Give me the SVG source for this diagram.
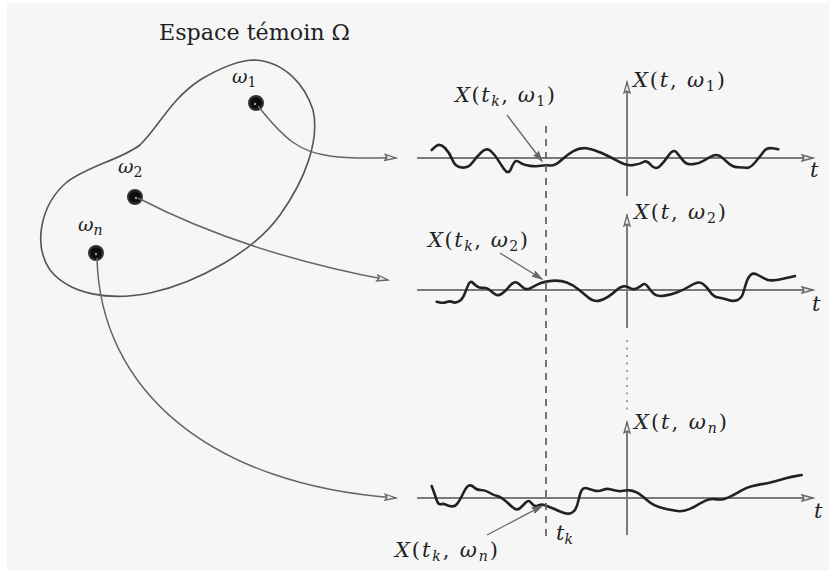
<svg xmlns="http://www.w3.org/2000/svg" width="829" height="572" viewBox="0 0 829 572">
<defs>
<style>
.bg{fill:#f6f6f6}
.blob{fill:none;stroke:#555;stroke-width:1.6}
.conn{fill:none;stroke:#666;stroke-width:1.5}
.axis{fill:none;stroke:#7a7a7a;stroke-width:2}
.wig{fill:none;stroke:#222;stroke-width:2.6;stroke-linejoin:round;stroke-linecap:round}
.dash{fill:none;stroke:#666;stroke-width:1.8;stroke-dasharray:7 6}
.dots{fill:none;stroke:#999;stroke-width:1.8;stroke-dasharray:2 5.5}
.lead{fill:none;stroke:#666;stroke-width:1.3}
text{font-family:'DejaVu Serif','Liberation Serif',serif;fill:#222}
.m{font-size:21px}
.i{font-style:italic}
.s{font-size:14px}
.dot{fill:#111;stroke:#333;stroke-width:2}
</style>
<filter id="soft" x="-50%" y="-50%" width="200%" height="200%"><feGaussianBlur stdDeviation="0.7"/></filter>
<marker id="ah" markerUnits="userSpaceOnUse" markerWidth="14" markerHeight="10" refX="12" refY="5" orient="auto">
<path d="M1,2 L12,5 L1,8 L3,5 Z" fill="#eee" stroke="#666" stroke-width="1.3"/>
</marker>
<marker id="lh" markerUnits="userSpaceOnUse" markerWidth="12" markerHeight="10" refX="10" refY="5" orient="auto">
<path d="M0,2 L10,5 L0,8 L2,5 Z" fill="#666" stroke="#666" stroke-width="1"/>
</marker>
</defs>
<rect class="bg" x="7" y="3" width="822" height="567"/>
<text x="159" y="40" font-size="22" textLength="191" lengthAdjust="spacingAndGlyphs">Espace témoin Ω</text>

<g id="omega-space">
<path class="blob" d="M255,60 C285,62 305,85 313,110 C320,140 305,180 280,215 C255,250 200,282 150,293 C110,301 70,295 50,270 C33,245 40,205 67,182 C90,165 120,160 140,145 C160,125 170,100 200,80 C220,68 240,60 255,60 Z"/>
</g>

<g id="w1">
<circle class="dot" cx="256" cy="103" r="7" filter="url(#soft)"/>
<circle cx="255" cy="104" r="1.2" fill="#999"/>
<text class="i" x="232" y="83" font-size="19">ω<tspan class="s" dy="4" font-style="normal">1</tspan></text>
</g>
<g id="w2">
<circle class="dot" cx="135" cy="197" r="7" filter="url(#soft)"/>
<circle cx="136" cy="198" r="1.2" fill="#999"/>
<text class="i" x="118" y="173" font-size="19">ω<tspan class="s" dy="4" font-style="normal">2</tspan></text>
</g>
<g id="wn">
<circle class="dot" cx="96" cy="253" r="7" filter="url(#soft)"/>
<circle cx="96" cy="254" r="1.2" fill="#999"/>
<text class="i" x="78" y="231" font-size="19">ω<tspan class="s i" dy="4">n</tspan></text>
</g>

<g id="plot1">
<line class="axis" x1="417" y1="158" x2="813" y2="158" marker-end="url(#ah)"/>
<line class="axis" x1="627" y1="196" x2="627" y2="82" marker-end="url(#ah)"/>
<path class="wig" d="M431.7,150 L435.85,146.35 Q440,142.7 445,148 Q450,153.3 452.5,160 Q455,166.7 461.65,167.5 Q468.3,168.3 472.5,162.5 Q476.7,156.7 481.7,152 Q486.7,147.3 490.85,151.15 Q495,155 497.5,159.15 Q500,163.3 504.15,169.15 Q508.3,175 510.8,169.15 Q513.3,163.3 515,161.65 Q516.7,160 520,162.5 Q523.3,165 530,165.85 Q536.7,166.7 540.85,165.85 Q545,165 550,165.5 Q555,166 560.85,160.5 Q566.7,155 573.35,151.15 Q580,147.3 586.65,148.3 Q593.3,149.3 601.65,153 Q610,156.7 618.35,161.35 Q626.7,166 633.35,165 Q640,164 643.35,162 Q646.7,160 650.85,165 Q655,170 659.15,166.65 Q663.3,163.3 668.3,155.8 Q673.3,148.3 676.65,152.5 Q680,156.7 683.35,160.85 Q686.7,165 693.35,164.15 Q700,163.3 705,160 Q710,156.7 714.15,155.35 Q718.3,154 722.5,157.85 Q726.7,161.7 730,164.5 Q733.3,167.3 738.3,167.3 Q743.3,167.3 746.65,167.8 Q750,168.3 755,162.5 Q760,156.7 763.35,152 Q766.7,147.3 772.5,148.3 L778.3,149.3"/>
<text class="m i" x="810" y="177">t</text>
<text class="m" x="633" y="87" textLength="92"><tspan class="i">X</tspan>(<tspan class="i">t</tspan>, <tspan class="i">ω</tspan><tspan class="s" dy="4">1</tspan><tspan dy="-4">)</tspan></text>
<text class="m" x="455" y="102" textLength="100"><tspan class="i">X</tspan>(<tspan class="i">t</tspan><tspan class="s i" dy="4">k</tspan><tspan dy="-4">, </tspan><tspan class="i">ω</tspan><tspan class="s" dy="4">1</tspan><tspan dy="-4">)</tspan></text>
<line class="lead" x1="507" y1="115" x2="542" y2="161" marker-end="url(#lh)"/>
</g>

<g id="plot2">
<line class="axis" x1="417" y1="290" x2="813" y2="290" marker-end="url(#ah)"/>
<line class="axis" x1="627" y1="328" x2="627" y2="215" marker-end="url(#ah)"/>
<path class="wig" d="M436.7,301.7 L440,302.5 Q443.3,303.3 446.65,302 Q450,300.7 452.5,302 Q455,303.3 458.35,301.65 Q461.7,300 463.35,296.65 Q465,293.3 467.5,286.65 Q470,280 472.5,282.5 Q475,285 477.5,286.65 Q480,288.3 483.35,287.8 Q486.7,287.3 490,290.3 Q493.3,293.3 495.8,294.65 Q498.3,296 501.65,293.85 Q505,291.7 508.35,287.5 Q511.7,283.3 514.2,282.5 Q516.7,281.7 519.2,284.2 Q521.7,286.7 524.2,288.35 Q526.7,290 530,288.35 Q533.3,286.7 538.3,284.2 Q543.3,281.7 551.65,280.85 Q560,280 566.65,282.5 Q573.3,285 578.3,289.15 Q583.3,293.3 588.3,297.5 Q593.3,301.7 598.3,300.85 Q603.3,300 608.3,296.65 Q613.3,293.3 616.65,290 Q620,286.7 623.35,286.35 Q626.7,286 630,288 Q633.3,290 636.65,288.35 Q640,286.7 642.5,284.7 Q645,282.7 647.5,286.35 Q650,290 653.35,293.35 Q656.7,296.7 663.35,295.85 Q670,295 676.65,292.5 Q683.3,290 688.3,287 Q693.3,284 696.65,282.85 Q700,281.7 703.35,284.2 Q706.7,286.7 710,291.7 Q713.3,296.7 718.3,297.5 Q723.3,298.3 728.3,300 Q733.3,301.7 737.5,300 Q741.7,298.3 743.35,292.5 Q745,286.7 746.65,281.7 Q748.3,276.7 750.8,274.7 Q753.3,272.7 756.65,274.35 Q760,276 764.15,278.35 Q768.3,280.7 772.5,280.35 Q776.7,280 780.85,279.15 Q785,278.3 790,277.15 L795,276"/>
<text class="m i" x="812" y="311">t</text>
<text class="m" x="634" y="219" textLength="92"><tspan class="i">X</tspan>(<tspan class="i">t</tspan>, <tspan class="i">ω</tspan><tspan class="s" dy="4">2</tspan><tspan dy="-4">)</tspan></text>
<text class="m" x="428" y="247" textLength="100"><tspan class="i">X</tspan>(<tspan class="i">t</tspan><tspan class="s i" dy="4">k</tspan><tspan dy="-4">, </tspan><tspan class="i">ω</tspan><tspan class="s" dy="4">2</tspan><tspan dy="-4">)</tspan></text>
<line class="lead" x1="500" y1="253" x2="542" y2="279" marker-end="url(#lh)"/>
</g>

<line class="dots" x1="627" y1="340" x2="627" y2="410"/>

<g id="plot3">
<line class="axis" x1="417" y1="498" x2="813" y2="498" marker-end="url(#ah)"/>
<line class="axis" x1="627" y1="535" x2="627" y2="422" marker-end="url(#ah)"/>
<path class="wig" d="M431.7,486 L433.35,490.5 Q435,495 436.65,500 Q438.3,505 440.8,504.15 Q443.3,503.3 445.8,504.65 Q448.3,506 451.65,506.35 Q455,506.7 457.5,503.35 Q460,500 463.35,493 Q466.7,486 469.2,485.5 Q471.7,485 474.2,487.5 Q476.7,490 480.85,490 Q485,490 489.15,492.5 Q493.3,495 496.65,495.85 Q500,496.7 503.35,499.2 Q506.7,501.7 510,505 Q513.3,508.3 515.8,509.15 Q518.3,510 520.8,507.5 Q523.3,505 525.8,502.5 Q528.3,500 530,501.65 Q531.7,503.3 533.35,505 Q535,506.7 538.35,505.35 Q541.7,504 544.2,505 Q546.7,506 550,507.15 Q553.3,508.3 556.65,510 Q560,511.7 563.35,512.85 Q566.7,514 569.2,513.65 Q571.7,513.3 574.2,510.8 Q576.7,508.3 578.35,500.8 Q580,493.3 581.65,490.3 Q583.3,487.3 586.65,488.3 Q590,489.3 594.15,490.5 Q598.3,491.7 602.5,490 Q606.7,488.3 610,489.15 Q613.3,490 616.65,490.85 Q620,491.7 623.35,490.85 Q626.7,490 630,490.35 Q633.3,490.7 636.65,492.35 Q640,494 643.35,497 Q646.7,500 650,502.5 Q653.3,505 658.3,506.65 Q663.3,508.3 667.5,509.15 Q671.7,510 675.85,510.85 Q680,511.7 685,510.5 Q690,509.3 695,506.3 Q700,503.3 705,500.8 Q710,498.3 715,499.15 Q720,500 723.35,499.15 Q726.7,498.3 731.7,495.8 Q736.7,493.3 741.7,490.3 Q746.7,487.3 751.7,486.15 Q756.7,485 761.7,484.15 Q766.7,483.3 773.35,481.65 Q780,480 785.85,478.35 Q791.7,476.7 796.7,475.85 L801.7,475"/>
<text class="m i" x="814" y="518">t</text>
<text class="m" x="634" y="429" textLength="93"><tspan class="i">X</tspan>(<tspan class="i">t</tspan>, <tspan class="i">ω</tspan><tspan class="s i" dy="4">n</tspan><tspan dy="-4">)</tspan></text>
<text class="m" x="395" y="557" textLength="103"><tspan class="i">X</tspan>(<tspan class="i">t</tspan><tspan class="s i" dy="4">k</tspan><tspan dy="-4">, </tspan><tspan class="i">ω</tspan><tspan class="s i" dy="4">n</tspan><tspan dy="-4">)</tspan></text>
<line class="lead" x1="487" y1="535" x2="542" y2="506" marker-end="url(#lh)"/>
<text class="m i" x="556" y="540">t<tspan class="s" dy="4">k</tspan></text>
</g>

<line class="dash" x1="546" y1="126" x2="546" y2="540"/>

<g id="connectors">
<path class="conn" d="M258,106 C285,140 300,152 330,156 S380,157 396,158" marker-end="url(#ah)"/>
<path class="conn" d="M138,198 C190,225 270,258 388,280" marker-end="url(#ah)"/>
<path class="conn" d="M97,258 C100,390 210,485 396,498" marker-end="url(#ah)"/>
</g>
</svg>
